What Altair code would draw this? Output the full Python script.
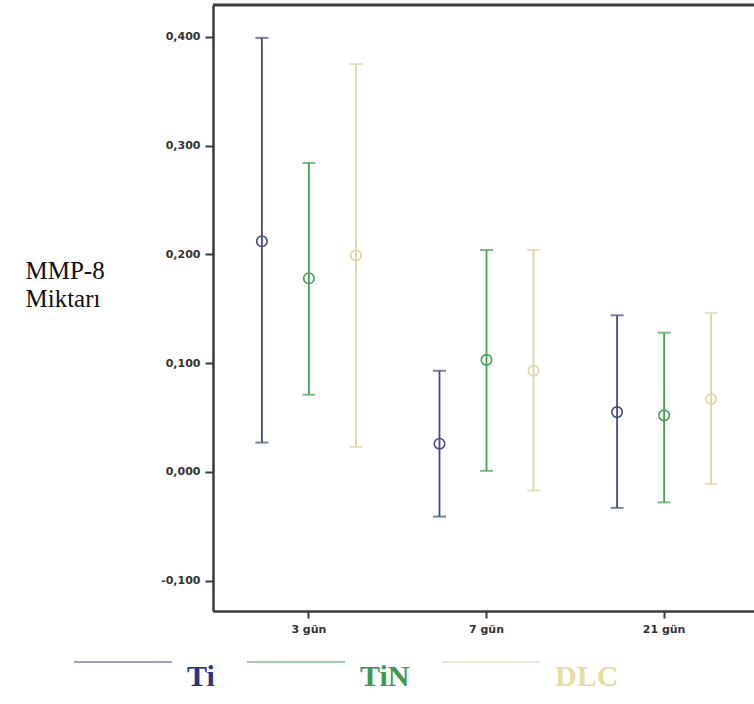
import altair as alt
import pandas as pd

days = ["3 gün", "7 gün", "21 gün"]
groups = ["Ti", "TiN", "DLC"]

ti_mean = [0.212, 0.026, 0.055]
ti_low = [0.027, -0.041, -0.033]
ti_high = [0.399, 0.093, 0.144]

tin_mean = [0.178, 0.103, 0.052]
tin_low = [0.071, 0.001, -0.028]
tin_high = [0.284, 0.204, 0.128]

dlc_mean = [0.199, 0.093, 0.067]
dlc_low = [0.023, -0.017, -0.011]
dlc_high = [0.375, 0.204, 0.146]

colors = ["#3f4c88", "#45a255", "#dcd7a2"]
label_colors = ["#2c3680", "#3c9a4e", "#e4dea0"]
y_ticks = [-0.1, 0.0, 0.1, 0.2, 0.3, 0.4]

rows = []
for g, m, lo, hi in [("Ti", ti_mean, ti_low, ti_high),
                     ("TiN", tin_mean, tin_low, tin_high),
                     ("DLC", dlc_mean, dlc_low, dlc_high)]:
    for d, mv, lv, hv in zip(days, m, lo, hi):
        rows.append({"day": d, "group": g, "mean": mv, "low": lv, "high": hv})
df = pd.DataFrame(rows)

W, H = 541, 606
frame = "#3a3a3a"

x_enc = alt.X("day:N", sort=days,
              scale=alt.Scale(range=[0, 547], paddingInner=0, paddingOuter=0.04),
              axis=alt.Axis(title=None, labelAngle=0, domainColor=frame, domainWidth=2.5,
                            tickColor=frame, tickWidth=2, tickSize=7, labelPadding=5,
                            labelFont="DejaVu Sans", labelFontSize=11, labelFontWeight="bold",
                            labelColor="#333", grid=False))
xo_enc = alt.XOffset("group:N", sort=groups,
                     scale=alt.Scale(paddingInner=0, paddingOuter=0.389))

y_axis = alt.Axis(values=y_ticks,
                  labelExpr="replace(replace(format(datum.value, '.3f'), '.', ','), '\u2212', '-')",
                  title=["MMP-8", "Miktarı"], titleAngle=0, titleAlign="left",
                  titleBaseline="top", titleX=-188, titleY=253,
                  titleFont="Liberation Serif", titleFontSize=25, titleFontWeight="normal",
                  titleLineHeight=28, titleColor="#111",
                  grid=False, domainColor=frame, domainWidth=2.5,
                  tickColor=frame, tickWidth=2, tickSize=8, labelPadding=5,
                  labelFont="DejaVu Sans", labelFontSize=11, labelFontWeight="bold",
                  labelColor="#333")
y_scale = alt.Scale(domain=[-0.1278, 0.4292], nice=False, zero=False)


def y_of(field):
    return alt.Y(f"{field}:Q", scale=y_scale, axis=y_axis)


label_color_expr = (f"datum.value == '{groups[0]}' ? '{label_colors[0]}' : "
                    f"datum.value == '{groups[1]}' ? '{label_colors[1]}' : '{label_colors[2]}'")

color_enc = alt.Color("group:N", sort=groups,
                      scale=alt.Scale(domain=groups, range=colors),
                      legend=alt.Legend(orient="none", legendX=-140, legendY=607,
                                        direction="horizontal", symbolType="stroke",
                                        symbolSize=9604, symbolStrokeWidth=1.5,
                                        labelFont="Liberation Serif", labelFontSize=30,
                                        labelFontWeight="bold", labelOffset=14,
                                        labelBaseline="top",
                                        labelColor=alt.ExprRef(expr=label_color_expr),
                                        columnPadding=29, padding=0, title=None,
                                        labelLimit=0))

base = alt.Chart(df)

rules = base.mark_rule(strokeWidth=1.8).encode(
    x=x_enc, xOffset=xo_enc, y=y_of("low"), y2="high:Q", color=color_enc)
caps_low = base.mark_tick(size=13, thickness=2).encode(
    x=x_enc, xOffset=xo_enc, y=y_of("low"), color=color_enc)
caps_high = base.mark_tick(size=13, thickness=2).encode(
    x=x_enc, xOffset=xo_enc, y=y_of("high"), color=color_enc)
points = base.mark_point(filled=False, size=110, strokeWidth=1.6, opacity=1).encode(
    x=x_enc, xOffset=xo_enc, y=y_of("mean"), color=color_enc)

top_border = alt.Chart(pd.DataFrame({"k": [0]})).mark_rule(
    color=frame, strokeWidth=3).encode(
    x=alt.value(0), x2=alt.value(W), y=alt.value(0))

chart = alt.layer(rules, caps_low, caps_high, points, top_border).properties(
    width=W, height=H,
    padding={"left": 213, "top": 5, "right": 0, "bottom": 93},
    autosize=alt.AutoSizeParams(type="none"),
).configure_view(fill="#f0f0f0", strokeWidth=0).configure(background="white")

chart.save("out.html", embed_options={"renderer": "svg", "actions": False})
